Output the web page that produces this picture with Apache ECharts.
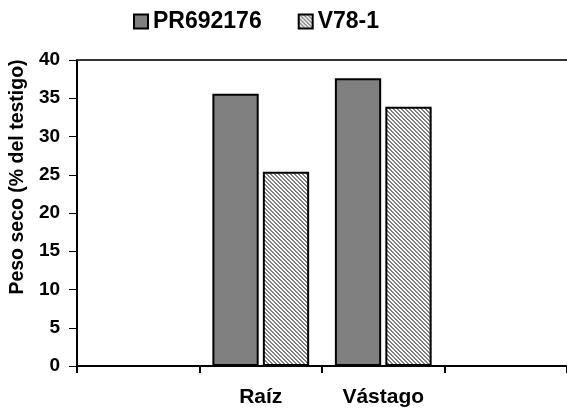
<!DOCTYPE html>
<html>
<head>
<meta charset="utf-8">
<script src="https://cdn.jsdelivr.net/npm/echarts@6/dist/echarts.min.js"></script>
<style>
  html, body { margin: 0; padding: 0; background: #fff; }
  #main { width: 567px; height: 413px; }
</style>
</head>
<body>
<div id="main"></div>
<script>
var categories = ['', 'Raíz', 'Vástago', ''];
var seriesNames = ['PR692176', 'V78-1'];
var pr692176 = ['-', 35.6, 37.6, '-'];
var v781 = ['-', 25.4, 33.9, '-'];
var yTicks = { min: 0, max: 40, interval: 5 };

// fine diagonal dither for the second series
var pat = document.createElement('canvas');
pat.width = 4; pat.height = 4;
var ctx = pat.getContext('2d');
ctx.fillStyle = '#ffffff';
ctx.fillRect(0, 0, 4, 4);
ctx.fillStyle = '#808080';
var dots = [[0,0],[1,0],[1,1],[2,1],[2,2],[3,2],[3,3],[0,3]];
dots.forEach(function (d) { ctx.fillRect(d[0], d[1], 1, 1); });

var myChart = echarts.init(document.getElementById('main'));
var font = 'Arial, "Liberation Sans", sans-serif';
var option = {
    backgroundColor: '#ffffff',
    animation: false,
    legend: {
        top: 5,
        left: 128,
        icon: 'rect',
        itemWidth: 14,
        itemHeight: 14,
        itemGap: 36,
        textStyle: { fontFamily: font, fontWeight: 'bold', fontSize: 23, color: '#000' },
        data: seriesNames
    },
    grid: { left: 76, right: -5, top: 60, bottom: 47 },
    xAxis: [{
        type: 'category',
        data: categories,
        axisLine: { lineStyle: { color: '#000', width: 2 } },
        axisTick: { show: true, length: 7, lineStyle: { color: '#000', width: 2 } },
        axisLabel: { margin: 21, fontFamily: font, fontWeight: 'bold', fontSize: 21, color: '#000' }
    }, {
        type: 'category',
        position: 'top',
        data: categories,
        axisLine: { lineStyle: { color: '#333', width: 2 } },
        axisTick: { show: false },
        axisLabel: { show: false }
    }],
    yAxis: {
        type: 'value',
        min: yTicks.min,
        max: yTicks.max,
        interval: yTicks.interval,
        name: 'Peso seco (% del testigo)',
        nameLocation: 'middle',
        nameGap: 48,
        nameTextStyle: { fontFamily: font, fontWeight: 'bold', fontSize: 19.5, color: '#000', padding: [0, 0, 0, 72] },
        axisLine: { show: true, lineStyle: { color: '#000', width: 2 } },
        axisTick: { show: true, length: 8, lineStyle: { color: '#000', width: 1 } },
        axisLabel: { margin: 17, fontFamily: font, fontWeight: 'bold', fontSize: 19, color: '#000' },
        splitLine: { show: false }
    },
    series: [{
        name: seriesNames[0],
        type: 'bar',
        data: pr692176,
        barGap: '9%',
        barCategoryGap: '21%',
        itemStyle: { color: '#808080', borderColor: '#000', borderWidth: 2 }
    }, {
        name: seriesNames[1],
        type: 'bar',
        data: v781,
        itemStyle: { color: { image: pat, repeat: 'repeat' }, borderColor: '#000', borderWidth: 2 }
    }]
};
myChart.setOption(option);
</script>
</body>
</html>
